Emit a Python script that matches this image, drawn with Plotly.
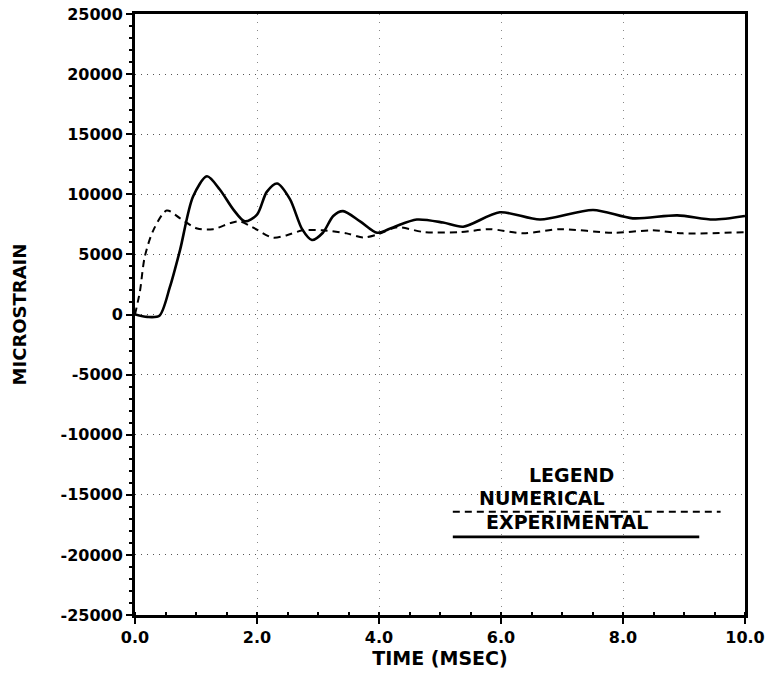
"""
Strain history: numerical vs experimental microstrain over the first 10 ms.
"""

import plotly.graph_objects as go

# ---------------------------------------------------------------------------
# DATA
# ---------------------------------------------------------------------------
EXP_TIME = [0.0, 0.2, 0.4, 0.57, 0.74, 0.95, 1.18, 1.39, 1.61, 1.80, 2.0, 2.16,
            2.33, 2.54, 2.74, 2.90, 3.08, 3.25, 3.41, 3.69, 3.97, 4.23, 4.62,
            5.05, 5.38, 5.98, 6.64, 7.51, 8.16, 8.89, 9.48, 10.0]
EXP_STRAIN = [0, -200, -100, 2250, 5400, 9800, 11500, 10400, 8750, 7750, 8300,
              10200, 10900, 9600, 7100, 6200, 6800, 8200, 8600, 7750, 6800, 7250,
              7900, 7650, 7300, 8500, 7900, 8700, 8000, 8250, 7900, 8200]

NUM_TIME = [0.0, 0.08, 0.16, 0.3, 0.52, 0.74, 1.02, 1.28, 1.56, 1.72, 1.93, 2.26,
            2.49, 2.75, 3.08, 3.47, 3.74, 3.97, 4.30, 4.75, 5.33, 5.82, 6.36,
            6.97, 7.84, 8.49, 8.98, 10.0]
NUM_STRAIN = [0, 1900, 4800, 7000, 8650, 8000, 7150, 7100, 7600, 7750, 7250, 6400,
              6600, 7000, 7000, 6750, 6400, 6650, 7250, 6850, 6850, 7100, 6750,
              7100, 6800, 7000, 6750, 6850]

X_TICKS = [0, 2, 4, 6, 8, 10]
X_TICK_TEXT = ["0.0", "2.0", "4.0", "6.0", "8.0", "10.0"]
Y_TICKS = [25000, 20000, 15000, 10000, 5000, 0, -5000, -10000, -15000, -20000, -25000]
Y_TICK_TEXT = ["25000", "20000", "15000", "10000", "5000", "0", "-5000", "-10000",
               "-15000", "-20000", "-25000"]

FONT = dict(family="DejaVu Sans", color="black", weight="bold")

fig = go.Figure()

fig.add_trace(
    go.Scatter(
        x=NUM_TIME, y=NUM_STRAIN, mode="lines", name="NUMERICAL",
        line=dict(color="black", width=2, dash="7px,5px", shape="spline", smoothing=0.8),
    )
)
fig.add_trace(
    go.Scatter(
        x=EXP_TIME, y=EXP_STRAIN, mode="lines", name="EXPERIMENTAL",
        line=dict(color="black", width=2.6, shape="spline", smoothing=0.8),
    )
)

# Legend block drawn inside the plot, the way the original figure has it
legend_font = dict(FONT, size=19)
fig.add_annotation(x=6.42, y=-13330, xref="x", yref="y", text="LEGEND", showarrow=False,
                   xanchor="left", yanchor="middle", font=legend_font)
fig.add_annotation(x=5.6, y=-15250, xref="x", yref="y", text="NUMERICAL", showarrow=False,
                   xanchor="left", yanchor="middle", font=legend_font)
fig.add_annotation(x=5.72, y=-17250, xref="x", yref="y", text="EXPERIMENTAL", showarrow=False,
                   xanchor="left", yanchor="middle", font=legend_font)
fig.add_shape(type="line", x0=5.21, x1=9.6, y0=-16400, y1=-16400, xref="x", yref="y",
              line=dict(color="black", width=2, dash="7px,5px"), layer="below")
fig.add_shape(type="line", x0=5.21, x1=9.25, y0=-18500, y1=-18500, xref="x", yref="y",
              line=dict(color="black", width=2.6))

fig.update_layout(
    width=771,
    height=679,
    margin=dict(l=135, r=26, t=14, b=64),
    paper_bgcolor="white",
    plot_bgcolor="white",
    showlegend=False,
    font=FONT,
    xaxis=dict(
        range=[0, 10],
        tickvals=X_TICKS,
        ticktext=X_TICK_TEXT,
        tickfont=dict(FONT, size=16),
        ticks="outside", ticklen=6, tickwidth=2, tickcolor="black",
        minor=dict(dtick=0.5, ticks="inside", ticklen=3, tickcolor="black", showgrid=False),
        showline=True, linecolor="black", linewidth=3, mirror=True,
        showgrid=True, gridcolor="#888", gridwidth=1, griddash="1px,7px",
        zeroline=False, automargin=False,
        title=dict(text="TIME (MSEC)", font=dict(FONT, size=19), standoff=6),
    ),
    yaxis=dict(
        range=[-25000, 25000],
        tickvals=Y_TICKS,
        ticktext=Y_TICK_TEXT,
        tickfont=dict(FONT, size=16),
        ticks="outside", ticklen=6, tickwidth=2, tickcolor="black",
        minor=dict(dtick=1000, ticks="outside", ticklen=3, tickcolor="black", showgrid=False),
        showline=True, linecolor="black", linewidth=3, mirror=True,
        showgrid=True, gridcolor="#555", gridwidth=1, griddash="1px,5px",
        zeroline=False, automargin=False,
        title=dict(text="MICROSTRAIN", font=dict(FONT, size=18), standoff=30),
    ),
)

fig.write_html(
    "out.html",
    config={"displayModeBar": False},
    post_script="document.body.style.margin='0';",
)
